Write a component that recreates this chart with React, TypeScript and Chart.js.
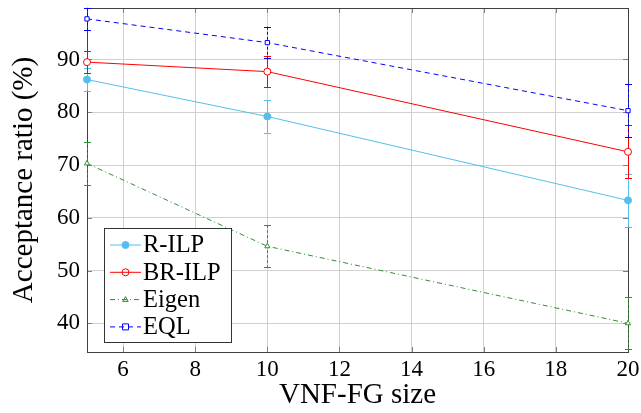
import React, { useEffect, useRef } from "react";
import { Chart, registerables } from "chart.js";
Chart.register(...registerables);

const sizes = [5, 10, 20];
const rIlp = [86.2, 79.2, 63.3];
const rIlpErr = [2.1, 3.1, 5.0];
const brIlp = [89.5, 87.7, 72.5];
const brIlpErr = [2.1, 3.0, 5.0];
const eigen = [70.3, 54.6, 40.0];
const eigenErr = [4.0, 4.0, 4.9];
const eql = [97.7, 93.2, 80.3];
const eqlErr = [2.1, 3.0, 5.0];
const xTicks = [6, 8, 10, 12, 14, 16, 18, 20];
const yTicks = [40, 50, 60, 70, 80, 90];
const xLabel = "VNF-FG size";
const yLabel = "Acceptance ratio (%)";
const seriesNames = ["R-ILP", "BR-ILP", "Eigen", "EQL"];

const FONT = '"Liberation Serif", serif';

type Series = {
  label: string;
  values: number[];
  errors: number[];
  color: string;
  dash: number[];
  style: string;
  filled: boolean;
  radius: number;
};

const series: Series[] = [
  { label: seriesNames[0], values: rIlp, errors: rIlpErr, color: "rgb(85,190,235)", dash: [], style: "circle", filled: true, radius: 3.5 },
  { label: seriesNames[1], values: brIlp, errors: brIlpErr, color: "#ff0000", dash: [], style: "circle", filled: false, radius: 3.5 },
  { label: seriesNames[2], values: eigen, errors: eigenErr, color: "#2f8f2f", dash: [5, 3, 1, 3], style: "triangle", filled: false, radius: 3 },
  { label: seriesNames[3], values: eql, errors: eqlErr, color: "#0000ff", dash: [5, 4], style: "rect", filled: false, radius: 3 },
];

function drawMarker(ctx: CanvasRenderingContext2D, s: Series, x: number, y: number) {
  ctx.save();
  ctx.setLineDash([]);
  ctx.lineWidth = 1;
  ctx.strokeStyle = s.color;
  ctx.fillStyle = s.filled ? s.color : "#fff";
  const r = s.radius;
  ctx.beginPath();
  if (s.style === "circle") {
    ctx.arc(x, y, r, 0, Math.PI * 2);
  } else if (s.style === "triangle") {
    ctx.moveTo(x, y - r);
    ctx.lineTo(x + r * 0.9, y + r * 0.6);
    ctx.lineTo(x - r * 0.9, y + r * 0.6);
    ctx.closePath();
  } else {
    ctx.rect(x - r, y - r, 2 * r, 2 * r);
  }
  if (s.filled) ctx.fill();
  ctx.stroke();
  ctx.restore();
}

const errorBarPlugin = {
  id: "errorBars",
  beforeDatasetsDraw(chart: any) {
    const ctx = chart.ctx as CanvasRenderingContext2D;
    const xs = chart.scales.x;
    const ys = chart.scales.y;
    series.forEach((s) => {
      ctx.save();
      ctx.strokeStyle = s.color;
      ctx.lineWidth = 1;
      const d = s.dash.length ? [3, 2] : [];
      sizes.forEach((sz, j) => {
        const x = Math.round(xs.getPixelForValue(sz)) + 0.5;
        const yt = ys.getPixelForValue(s.values[j] + s.errors[j]);
        const yb = ys.getPixelForValue(s.values[j] - s.errors[j]);
        ctx.setLineDash(d);
        ctx.beginPath();
        ctx.moveTo(x, yt);
        ctx.lineTo(x, yb);
        ctx.stroke();
        ctx.setLineDash([]);
        ctx.beginPath();
        ctx.moveTo(x - 3.5, Math.round(yt) + 0.5);
        ctx.lineTo(x + 3.5, Math.round(yt) + 0.5);
        ctx.moveTo(x - 3.5, Math.round(yb) + 0.5);
        ctx.lineTo(x + 3.5, Math.round(yb) + 0.5);
        ctx.stroke();
      });
      ctx.restore();
    });
  },
};

const framePlugin = {
  id: "frame",
  beforeDatasetsDraw(chart: any) {
    const ctx = chart.ctx as CanvasRenderingContext2D;
    const { left, right, top, bottom } = chart.chartArea;
    const xs = chart.scales.x;
    const ys = chart.scales.y;
    ctx.save();
    ctx.strokeStyle = "#808080";
    ctx.lineWidth = 1;
    ctx.beginPath();
    xTicks.forEach((v) => {
      const x = Math.round(xs.getPixelForValue(v)) + 0.5;
      ctx.moveTo(x, bottom);
      ctx.lineTo(x, bottom - 5);
      ctx.moveTo(x, top);
      ctx.lineTo(x, top + 5);
    });
    yTicks.forEach((v) => {
      const y = Math.round(ys.getPixelForValue(v)) + 0.5;
      ctx.moveTo(left, y);
      ctx.lineTo(left + 5, y);
      ctx.moveTo(right, y);
      ctx.lineTo(right - 5, y);
    });
    ctx.stroke();
    ctx.strokeStyle = "#404040";
    ctx.strokeRect(Math.round(left) + 0.5, Math.round(top) + 0.5, Math.round(right - left), Math.round(bottom - top));
    ctx.restore();
  },
};

const legendPlugin = {
  id: "customLegend",
  afterDraw(chart: any) {
    const ctx = chart.ctx as CanvasRenderingContext2D;
    ctx.save();
    const bx = 104.5, by = 228.5, bw = 127, bh = 114;
    ctx.fillStyle = "#fff";
    ctx.fillRect(bx, by, bw, bh);
    ctx.strokeStyle = "#333";
    ctx.lineWidth = 1;
    ctx.strokeRect(bx, by, bw, bh);
    series.forEach((s, i) => {
      const y = 245 + i * 27.3;
      ctx.save();
      ctx.strokeStyle = s.color;
      ctx.lineWidth = 1;
      ctx.setLineDash(s.dash);
      ctx.beginPath();
      ctx.moveTo(110, y);
      ctx.lineTo(141, y);
      ctx.stroke();
      ctx.restore();
      drawMarker(ctx, s, 125.5, y);
      ctx.fillStyle = "#000";
      ctx.font = `24.5px ${FONT}`;
      ctx.textBaseline = "middle";
      ctx.textAlign = "left";
      ctx.fillText(s.label, 143, y + 1);
    });
    ctx.restore();
  },
};

export default function App() {
  const ref = useRef<HTMLCanvasElement>(null);
  useEffect(() => {
    const canvas = ref.current;
    if (!canvas) return;
    const chart = new Chart(canvas, {
      type: "line",
      data: {
        datasets: series.map((s) => ({
          label: s.label,
          data: sizes.map((x, i) => ({ x, y: s.values[i] })),
          borderColor: s.color,
          backgroundColor: s.filled ? s.color : "#fff",
          pointBackgroundColor: s.filled ? s.color : "#fff",
          pointBorderColor: s.color,
          pointStyle: s.style as any,
          pointRadius: s.radius,
          pointBorderWidth: 1,
          borderWidth: 1,
          borderDash: s.dash,
          tension: 0,
          clip: false as any,
          fill: false,
        })),
      },
      options: {
        responsive: false,
        animation: false,
        devicePixelRatio: 1,
        layout: { padding: { top: 8, right: 13, left: 0, bottom: 0 } },
        plugins: { legend: { display: false }, tooltip: { enabled: false } },
        scales: {
          x: {
            type: "linear",
            min: 5,
            max: 20,
            afterBuildTicks: (s: any) => {
              s.ticks = xTicks.map((v) => ({ value: v }));
            },
            afterFit: (s: any) => {
              s.height = 61;
              s.paddingLeft = 0;
              s.paddingRight = 0;
            },
            grid: { color: "#d0d0d0", drawTicks: false, lineWidth: 1 },
            border: { display: false },
            ticks: { padding: 4, color: "#000", font: { family: FONT, size: 23 }, maxRotation: 0, autoSkip: false },
            title: { display: true, text: xLabel, color: "#000", font: { family: FONT, size: 29 }, padding: { top: 0, bottom: 0 } },
          },
          y: {
            type: "linear",
            min: 34.56,
            max: 99.76,
            afterBuildTicks: (s: any) => {
              s.ticks = yTicks.map((v) => ({ value: v }));
            },
            afterFit: (s: any) => {
              s.width = 87;
              s.paddingTop = 0;
              s.paddingBottom = 0;
            },
            grid: { color: "#d0d0d0", drawTicks: false, lineWidth: 1 },
            border: { display: false },
            ticks: { padding: 7, color: "#000", font: { family: FONT, size: 23 } },
            title: { display: true, text: yLabel, color: "#000", font: { family: FONT, size: 29 }, padding: { top: 7, bottom: 0 } },
          },
        },
      },
      plugins: [framePlugin, errorBarPlugin, legendPlugin],
    } as any);
    return () => chart.destroy();
  }, []);
  return (
    <div style={{ position: "fixed", left: 0, top: 0, width: 641, height: 413, background: "#fff" }}>
      <canvas ref={ref} width={641} height={413} style={{ width: 641, height: 413, display: "block" }} />
    </div>
  );
}
